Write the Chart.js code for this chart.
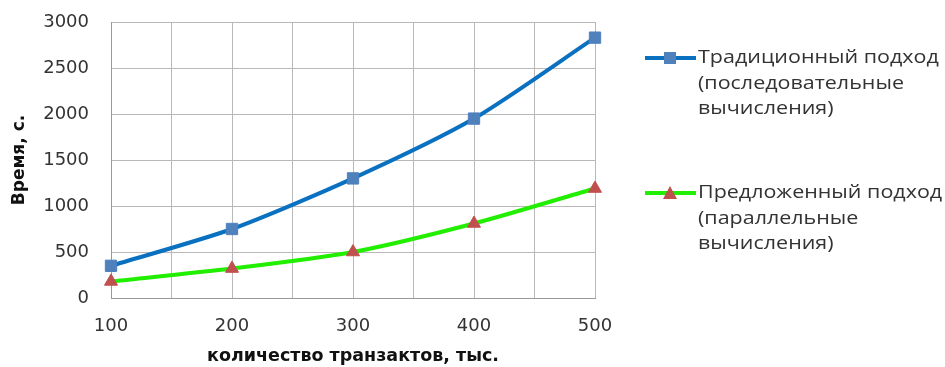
<!DOCTYPE html>
<html>
<head>
<meta charset="utf-8">
<script src="https://cdn.jsdelivr.net/npm/chart.js@4/dist/chart.umd.min.js"></script>
<style>
  html, body { margin: 0; padding: 0; background: #fff; }
  #wrap { width: 945px; height: 367px; }
</style>
</head>
<body>
<div id="wrap"><canvas id="chart" width="945" height="367"></canvas></div>
<script>
// Data
const transactions = [100, 200, 300, 400, 500];
const traditionalTimes = [350, 750, 1300, 1950, 2830];
const proposedTimes = [180, 320, 500, 810, 1190];
const traditionalLabel = ['Традиционный подход', '(последовательные', 'вычисления)'];
const proposedLabel = ['Предложенный подход', '(параллельные', 'вычисления)'];
const xTitle = 'количество транзактов, тыс.';
const yTitle = 'Время, с.';

const toPoints = (xs, ys) => xs.map((x, i) => ({ x: x, y: ys[i] }));

const tickFont = { family: 'DejaVu Sans', size: 18 };
const textColor = '#333333';

// legend drawn by hand so labels can wrap over several lines
const sideLegend = {
    id: 'sideLegend',
    afterDraw(chart) {
        const ctx = chart.ctx;
        const tops = [58, 193];
        chart.data.datasets.forEach((ds, i) => {
            const y = tops[i];
            ctx.save();
            ctx.strokeStyle = ds.borderColor;
            ctx.lineWidth = 4;
            ctx.beginPath();
            ctx.moveTo(645, y);
            ctx.lineTo(696, y);
            ctx.stroke();
            ctx.fillStyle = ds.pointBackgroundColor;
            if (ds.pointStyle === 'rect') {
                ctx.fillRect(664, y - 6, 12, 12);
            } else {
                ctx.beginPath();
                ctx.moveTo(670, y - 7);
                ctx.lineTo(677, y + 6);
                ctx.lineTo(663, y + 6);
                ctx.closePath();
                ctx.fill();
            }
            ctx.fillStyle = textColor;
            ctx.font = '19px "Open Sans"';
            ctx.textBaseline = 'middle';
            ctx.textAlign = 'left';
            ctx.translate(698, y);
            ctx.scale(1.13, 1);
            ds.legendLines.forEach((line, j) => {
                ctx.fillText(line, 0, j * 25.5);
            });
            ctx.restore();
        });
    }
};

const ctx = document.getElementById('chart').getContext('2d');
const chart = new Chart(ctx, {
    type: 'line',
    data: {
        datasets: [{
            data: toPoints(transactions, traditionalTimes),
            legendLines: traditionalLabel,
            borderColor: '#0a70c0',
            borderWidth: 4,
            pointStyle: 'rect',
            pointRadius: 8,
            pointBorderWidth: 1,
            pointBackgroundColor: '#4f81bd',
            pointBorderColor: '#4f81bd',
            tension: 0.25,
            clip: false
        }, {
            data: toPoints(transactions, proposedTimes),
            legendLines: proposedLabel,
            borderColor: '#22ee00',
            borderWidth: 4,
            pointStyle: 'triangle',
            pointRadius: 7.5,
            pointBorderWidth: 1,
            pointBackgroundColor: '#c0504d',
            pointBorderColor: '#c0504d',
            tension: 0.25,
            clip: false
        }]
    },
    options: {
        responsive: false,
        animation: false,
        layout: { padding: { top: 22, right: 350, left: 9, bottom: 0 } },
        plugins: {
            legend: { display: false },
            tooltip: { enabled: false }
        },
        scales: {
            x: {
                type: 'linear',
                min: 100,
                max: 500,
                afterFit: scale => { scale.height = 69; },
                ticks: {
                    stepSize: 50,
                    autoSkip: false,
                    maxRotation: 0,
                    padding: 18,
                    color: textColor,
                    font: tickFont,
                    callback: v => (v % 100 === 0 ? String(v) : '')
                },
                grid: { color: '#b8b8b8', lineWidth: 1, drawTicks: false },
                border: { color: '#999999' },
                title: {
                    display: true,
                    text: xTitle,
                    color: '#111',
                    font: { family: 'DejaVu Sans', size: 17.5, weight: 'bold' },
                    padding: { top: 0, bottom: 0 }
                }
            },
            y: {
                min: 0,
                max: 3000,
                afterFit: scale => {
                    scale.width = 102;
                    // tick padding would otherwise push the plot top down
                    scale.paddingTop = 0;
                    scale.paddingBottom = 0;
                },
                ticks: {
                    stepSize: 500,
                    padding: 22,
                    color: textColor,
                    font: tickFont,
                    callback: v => String(v)
                },
                grid: { color: '#b8b8b8', lineWidth: 1, drawTicks: false },
                border: { color: '#999999' },
                title: {
                    display: true,
                    text: yTitle,
                    color: '#111',
                    font: { family: 'DejaVu Sans', size: 17, weight: 'bold' },
                    padding: { top: 0, bottom: 4 }
                }
            }
        }
    },
    plugins: [sideLegend]
});
</script>
</body>
</html>
